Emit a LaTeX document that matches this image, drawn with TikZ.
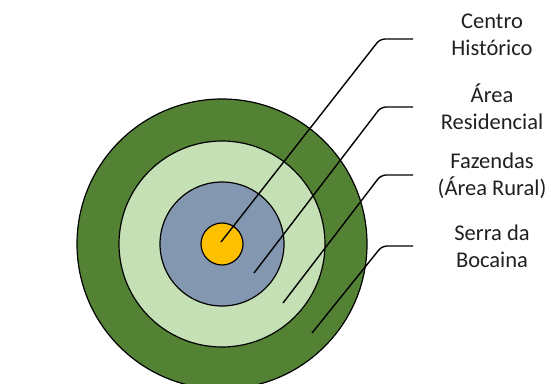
\documentclass[tikz,border=0pt]{standalone}
\usepackage{fontspec}
\setmainfont{Carlito}
\definecolor{darkgreen}{HTML}{548235}
\definecolor{lightgreen}{HTML}{C5E0B4}
\definecolor{bluegray}{HTML}{8497B0}
\definecolor{gold}{HTML}{FFC000}
\definecolor{txt}{HTML}{202020}
\begin{document}
\begin{tikzpicture}[x=1pt,y=-1pt,
  ring/.style={draw=black,line width=1.2pt},
  leader/.style={draw=black,line width=1.4pt,rounded corners=5pt},
  lbl/.style={align=center,text=txt,font=\fontsize{22.5}{27}\selectfont,inner sep=0pt}]
\useasboundingbox (0,0) rectangle (551,383);
\clip (0,0) rectangle (551,383);
\coordinate (c) at (222,244);
\fill[ring,fill=darkgreen] (c) circle (145pt);
\fill[ring,fill=lightgreen] (c) circle (103pt);
\fill[ring,fill=bluegray] (c) circle (62pt);
\fill[ring,fill=gold] (c) circle (21pt);
% labels
\node[lbl] (l1) at (492,35) {Centro\\Histórico};
\node[lbl] (l2) at (492,107) {Área\\Residencial};
\node[lbl] (l3) at (492,176) {Fazendas\\(Área Rural)};
\node[lbl] (l4) at (492,246) {Serra da\\Bocaina};
% leader points
\coordinate (s1) at (221,242);
\coordinate (k1) at (380,39);
\coordinate (e1) at (413,39);
\coordinate (s2) at (254,273);
\coordinate (k2) at (381,107);
\coordinate (e2) at (413,107);
\coordinate (s3) at (283,303);
\coordinate (k3) at (381,175);
\coordinate (e3) at (413,175);
\coordinate (s4) at (312,333);
\coordinate (k4) at (382,246);
\coordinate (e4) at (413,246);
\draw[leader] (s1) -- (k1) -- (e1);
\draw[leader] (s2) -- (k2) -- (e2);
\draw[leader] (s3) -- (k3) -- (e3);
\draw[leader] (s4) -- (k4) -- (e4);
\end{tikzpicture}
\end{document}
